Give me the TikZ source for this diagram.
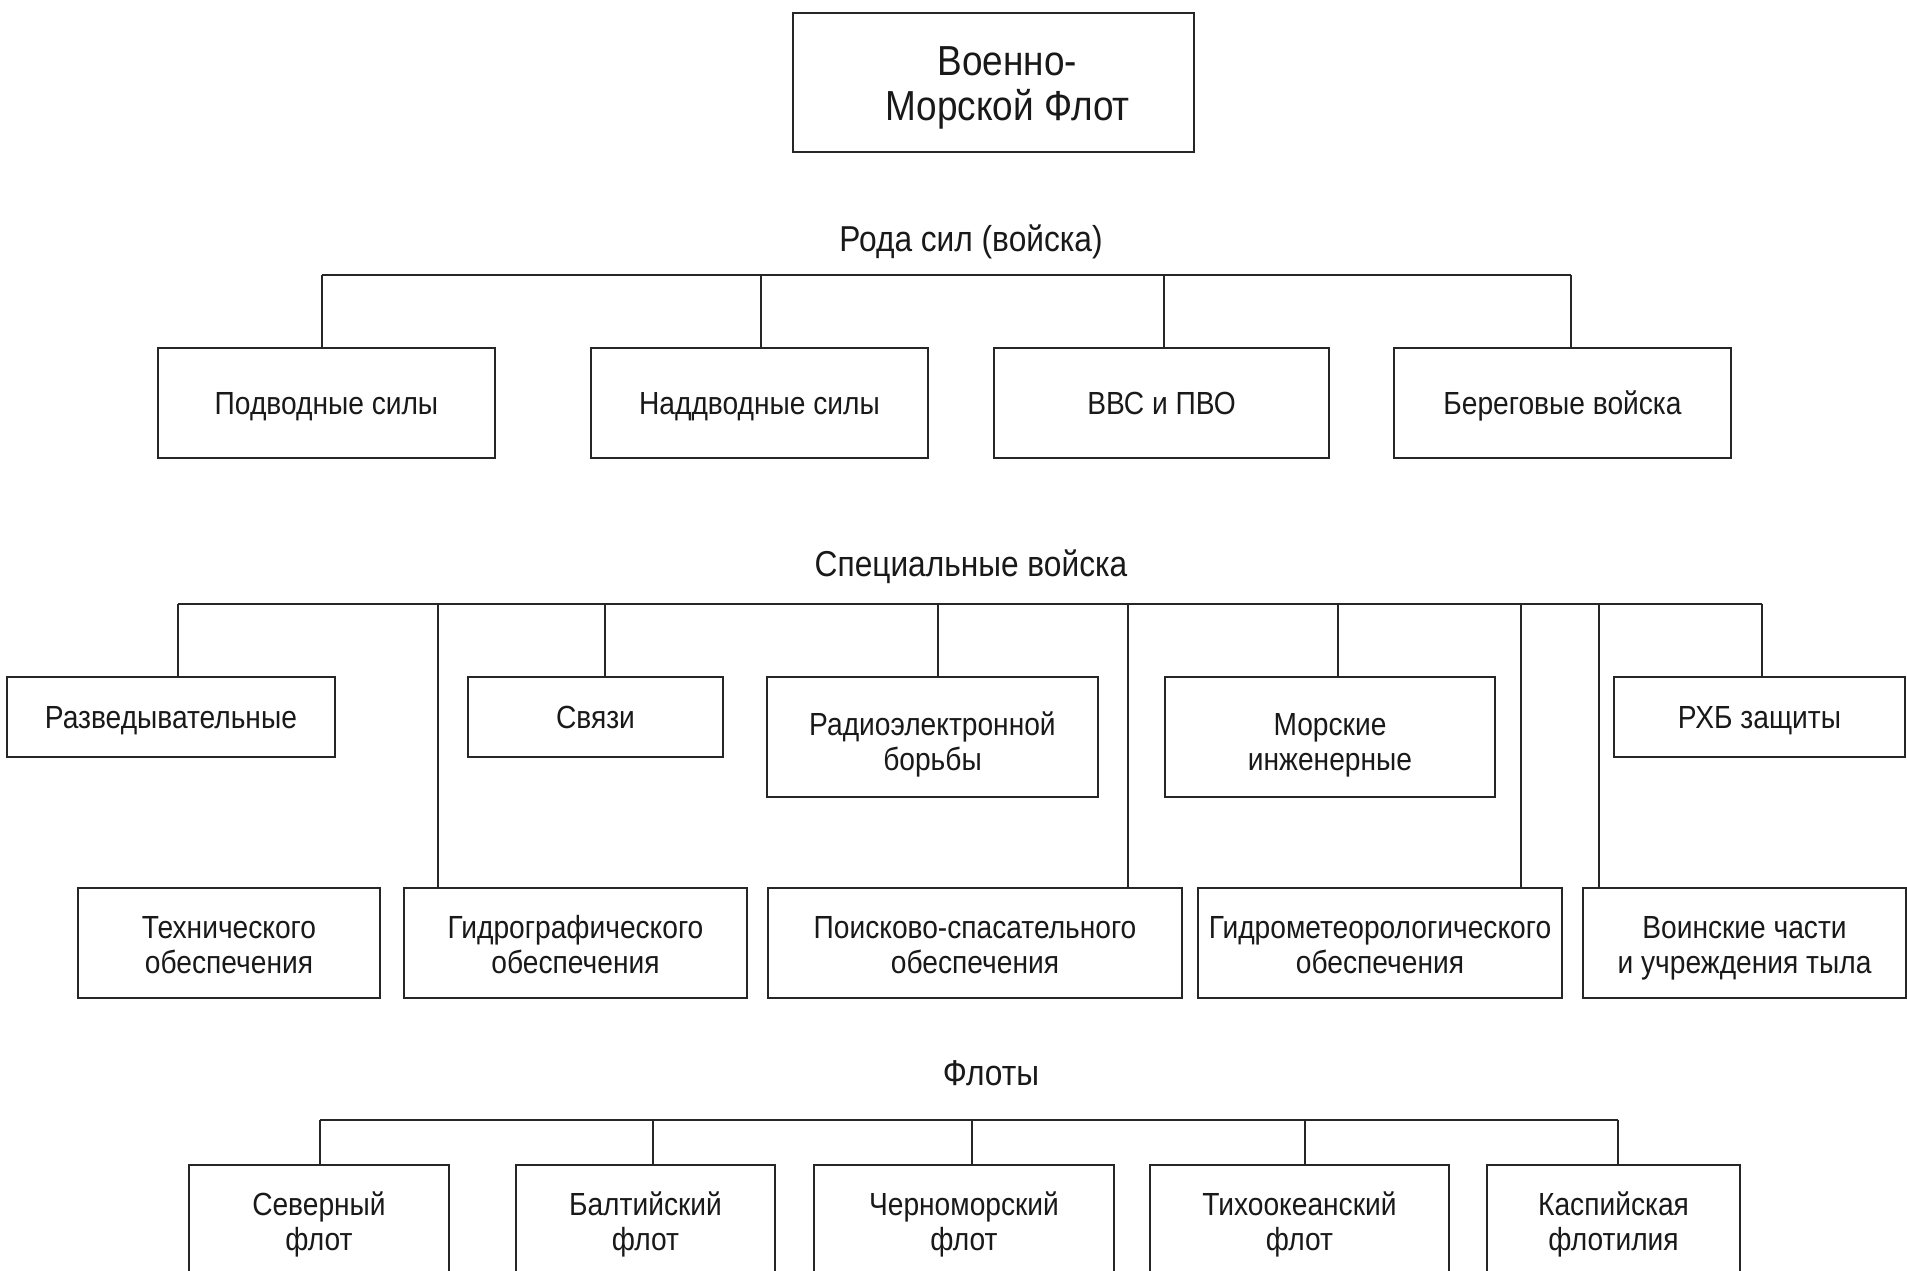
\documentclass[tikz,border=0pt]{standalone}
\usepackage{fontspec}
\setmainfont{Liberation Sans}[FakeStretch=0.88]
% two-line content with fixed strut height/depth
\newcommand\twoln[4]{\rule{0pt}{#3}#1\\#2\rule[-#4]{0pt}{0pt}}
\begin{document}
\begin{tikzpicture}[x=1pt,y=-1pt,
  box/.style={draw=black!85, line width=2.6pt, inner sep=0pt, align=center,
    font=\fontsize{32}{35}\selectfont, text=black!90},
  one/.style={box,
    execute at begin node={\rule{0pt}{30pt}},
    execute at end node={\rule[-8pt]{0pt}{0pt}}},
  topbox/.style={box, font=\fontsize{42}{45}\selectfont},
  head/.style={inner sep=0pt, font=\fontsize{36}{40}\selectfont, text=black!90},
  conn/.style={draw=black!85, line width=2.4pt}]
\useasboundingbox (0,0) rectangle (1907,1271);
\clip (0,0) rectangle (1907,1271);
\fill[white] (0,0) rectangle (1907,1271);

% top
\node[topbox, minimum width=401pt, minimum height=139pt] (top) at (993.5,82.5) {\twoln{\hspace*{28pt}Военно-}{\hspace*{28pt}Морской Флот}{42pt}{10pt}};

% Рода сил
\node[head] (h1) at (971,241.5) {Рода сил (войска)};
\coordinate (bL1) at (322,275);
\coordinate (bR1) at (1571,275);
\draw[conn] (bL1) -- (bR1);
\node[one, minimum width=337pt, minimum height=110pt] (b1) at (326.5,403) {Подводные силы};
\node[one, minimum width=337pt, minimum height=110pt] (b2) at (759.5,403) {Наддводные силы};
\node[one, minimum width=335pt, minimum height=110pt] (b3) at (1161.5,403) {ВВС и ПВО};
\node[one, minimum width=337pt, minimum height=110pt] (b4) at (1562.5,403) {Береговые войска};
\coordinate (j12) at (761,275);
\coordinate (j13) at (1164,275);
\draw[conn] (bL1) -- (bL1 |- b1.north);
\draw[conn] (j12) -- (j12 |- b2.north);
\draw[conn] (j13) -- (j13 |- b3.north);
\draw[conn] (bR1) -- (bR1 |- b4.north);

% Специальные войска
\node[head] (h2) at (971,566.5) {Специальные войска};
\coordinate (bL2) at (178,604);
\coordinate (bR2) at (1762,604);
\draw[conn] (bL2) -- (bR2);
\node[one, minimum width=328pt, minimum height=80pt] (a1) at (171,717) {Разведывательные};
\node[one, minimum width=255pt, minimum height=80pt] (a2) at (595.5,717) {Связи};
\node[box, minimum width=331pt, minimum height=120pt] (a3) at (932.5,737) {\twoln{Радиоэлектронной}{борьбы}{38pt}{7pt}};
\node[box, minimum width=330pt, minimum height=120pt] (a4) at (1330,737) {\twoln{Морские}{инженерные}{38pt}{7pt}};
\node[one, minimum width=291pt, minimum height=80pt] (a5) at (1759.5,717) {РХБ защиты};
\node[box, minimum width=302pt, minimum height=110pt] (c1) at (229,943) {\twoln{Технического}{обеспечения}{32pt}{7pt}};
\node[box, minimum width=343pt, minimum height=110pt] (c2) at (575.5,943) {\twoln{Гидрографического}{обеспечения}{32pt}{7pt}};
\node[box, minimum width=414pt, minimum height=110pt] (c3) at (975,943) {\twoln{Поисково-спасательного}{обеспечения}{32pt}{7pt}};
\node[box, minimum width=364pt, minimum height=110pt] (c4) at (1380,943) {\twoln{Гидрометеорологического}{обеспечения}{32pt}{7pt}};
\node[box, minimum width=323pt, minimum height=110pt] (c5) at (1744.5,943) {\twoln{Воинские части}{и учреждения тыла}{32pt}{7pt}};
\coordinate (j22) at (438,604);
\coordinate (j23) at (605,604);
\coordinate (j24) at (938,604);
\coordinate (j25) at (1128,604);
\coordinate (j26) at (1338,604);
\coordinate (j27) at (1521,604);
\coordinate (j28) at (1599,604);
\draw[conn] (bL2) -- (bL2 |- a1.north);
\draw[conn] (j22) -- (j22 |- c2.north);
\draw[conn] (j23) -- (j23 |- a2.north);
\draw[conn] (j24) -- (j24 |- a3.north);
\draw[conn] (j25) -- (j25 |- c3.north);
\draw[conn] (j26) -- (j26 |- a4.north);
\draw[conn] (j27) -- (j27 |- c4.north);
\draw[conn] (j28) -- (j28 |- c5.north);
\draw[conn] (bR2) -- (bR2 |- a5.north);

% Флоты
\node[head] (h3) at (991,1073) {Флоты};
\coordinate (bL3) at (320,1120);
\coordinate (bR3) at (1618,1120);
\draw[conn] (bL3) -- (bR3);
\node[box, minimum width=260pt, minimum height=110pt] (f1) at (319,1220) {\twoln{Северный}{флот}{32pt}{7pt}};
\node[box, minimum width=259pt, minimum height=110pt] (f2) at (645.5,1220) {\twoln{Балтийский}{флот}{32pt}{7pt}};
\node[box, minimum width=300pt, minimum height=110pt] (f3) at (964,1220) {\twoln{Черноморский}{флот}{32pt}{7pt}};
\node[box, minimum width=299pt, minimum height=110pt] (f4) at (1299.5,1220) {\twoln{Тихоокеанский}{флот}{32pt}{7pt}};
\node[box, minimum width=253pt, minimum height=110pt] (f5) at (1613.5,1220) {\twoln{Каспийская}{флотилия}{32pt}{7pt}};
\coordinate (j32) at (653,1120);
\coordinate (j33) at (972,1120);
\coordinate (j34) at (1305,1120);
\draw[conn] (bL3) -- (bL3 |- f1.north);
\draw[conn] (j32) -- (j32 |- f2.north);
\draw[conn] (j33) -- (j33 |- f3.north);
\draw[conn] (j34) -- (j34 |- f4.north);
\draw[conn] (bR3) -- (bR3 |- f5.north);
\end{tikzpicture}
\end{document}
